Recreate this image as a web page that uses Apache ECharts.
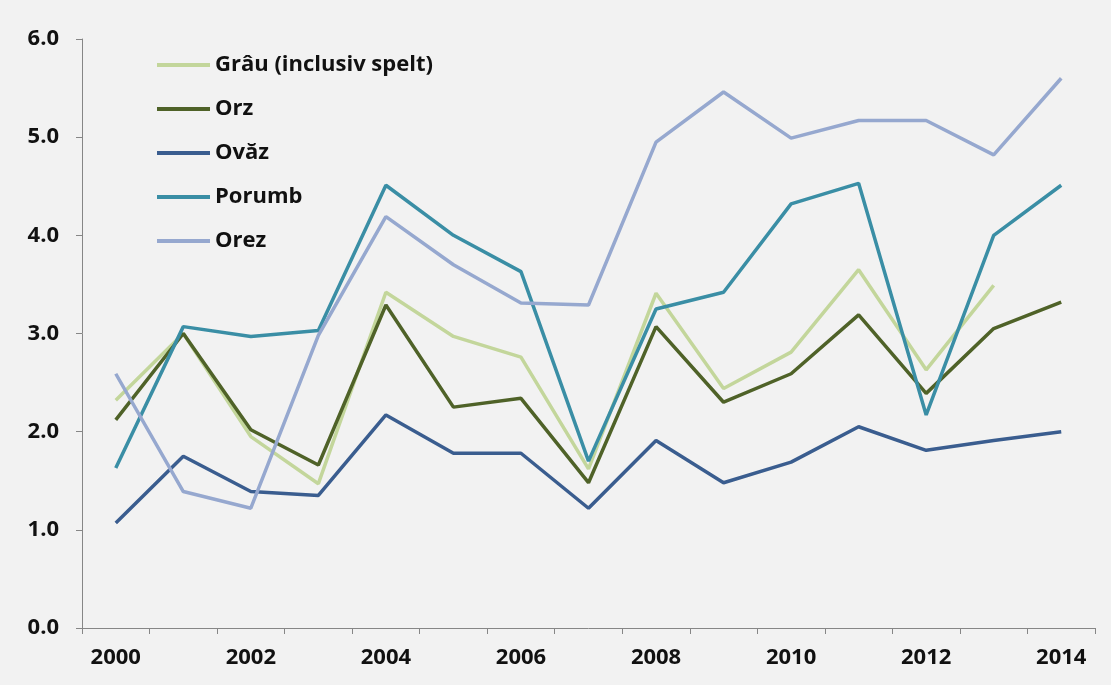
<!DOCTYPE html>
<html>
<head>
<meta charset="utf-8">
<script src="https://cdn.jsdelivr.net/npm/echarts@6/dist/echarts.min.js"></script>
<style>
html,body{margin:0;padding:0;background:#f2f2f2;}
#chart{width:1111px;height:685px;}
</style>
</head>
<body>
<div id="chart"></div>
<script>
var years = ['2000','2001','2002','2003','2004','2005','2006','2007','2008','2009','2010','2011','2012','2013','2014'];
var seriesNames = ['Grâu (inclusiv spelt)','Orz','Ovăz','Porumb','Orez'];
var grau   = [2.32, 3.00, 1.95, 1.47, 3.42, 2.97, 2.76, 1.62, 3.41, 2.44, 2.81, 3.65, 2.63, 3.49, null];
var orz    = [2.12, 3.00, 2.02, 1.66, 3.29, 2.25, 2.34, 1.48, 3.07, 2.30, 2.59, 3.19, 2.39, 3.05, 3.32];
var ovaz   = [1.07, 1.75, 1.39, 1.35, 2.17, 1.78, 1.78, 1.22, 1.91, 1.48, 1.69, 2.05, 1.81, 1.91, 2.00];
var porumb = [1.63, 3.07, 2.97, 3.03, 4.51, 4.00, 3.63, 1.70, 3.25, 3.42, 4.32, 4.53, 2.17, 4.00, 4.51];
var orez   = [2.59, 1.39, 1.22, 2.98, 4.19, 3.70, 3.31, 3.29, 4.95, 5.46, 4.99, 5.17, 5.17, 4.82, 5.60];
var colors = ['#c3d69b','#4f6228','#3a5d8f','#3a8ea5','#96a8cf'];
var allData = [grau, orz, ovaz, porumb, orez];

var chart = echarts.init(document.getElementById('chart'));
var font = '"Open Sans", sans-serif';
chart.setOption({
  backgroundColor: '#f2f2f2',
  animation: false,
  color: colors,
  grid: {left: 82, right: 16, top: 39, bottom: 57, containLabel: false},
  legend: {
    orient: 'vertical',
    left: 152,
    top: 48,
    icon: 'rect',
    itemWidth: 53,
    itemHeight: 4,
    itemGap: 20,
    textStyle: {fontFamily: font, fontWeight: 'bold', fontSize: 22, color: '#111', lineHeight: 24}
  },
  xAxis: {
    type: 'category',
    data: years,
    boundaryGap: true,
    axisLine: {lineStyle: {color: '#868686', width: 1}},
    axisTick: {show: true, interval: 0, length: 6, lineStyle: {color: '#868686'}},
    axisLabel: {interval: 1, margin: 19, fontFamily: font, fontWeight: 'bold', fontSize: 22, color: '#111'}
  },
  yAxis: {
    type: 'value',
    min: 0, max: 6, interval: 1,
    splitLine: {show: false},
    axisLine: {show: true, lineStyle: {color: '#868686', width: 1}},
    axisTick: {show: true, length: 6, lineStyle: {color: '#868686'}},
    axisLabel: {margin: 23, fontFamily: font, fontWeight: 'bold', fontSize: 22, color: '#111',
      formatter: function(v){ return v.toFixed(1); }}
  },
  series: seriesNames.map(function(n, i){
    return {
      name: n, type: 'line', data: allData[i],
      symbol: 'none', lineStyle: {width: 3.5, color: colors[i]},
      itemStyle: {color: colors[i]}
    };
  })
});
</script>
</body>
</html>
